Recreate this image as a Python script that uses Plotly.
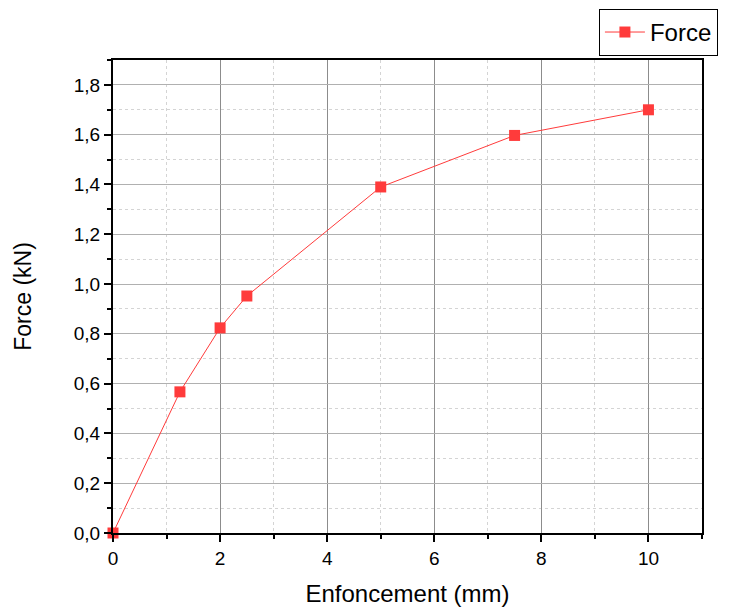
import plotly.graph_objects as go

enfoncement = [0, 1.25, 2, 2.5, 5, 7.5, 10]
force = [0, 0.567, 0.824, 0.952, 1.39, 1.597, 1.70]

fig = go.Figure()
fig.add_trace(go.Scatter(
    x=enfoncement, y=force, mode="lines+markers", name="Force",
    line=dict(color="#ff3b3b", width=1),
    marker=dict(symbol="square", size=11, color="#ff3b3b"),
    cliponaxis=False,
))

font_family = "Liberation Sans, Arial, sans-serif"

fig.update_layout(
    width=729, height=607,
    margin=dict(l=105, r=35, t=52, b=82, autoexpand=False),
    paper_bgcolor="white", plot_bgcolor="white",
    separators=",.",
    font=dict(family=font_family, color="black"),
    showlegend=True,
    legend=dict(
        x=0.825, xanchor="left", y=1.108, yanchor="top",
        bordercolor="black", borderwidth=1, bgcolor="white",
        font=dict(size=24), itemwidth=40,
    ),
    xaxis=dict(
        range=[0, 11], tickvals=[0, 2, 4, 6, 8, 10],
        ticks="outside", ticklen=7, tickwidth=2, tickcolor="black",
        showline=True, linecolor="black", linewidth=2, mirror=True,
        showgrid=True, gridcolor="#8c8c8c", gridwidth=1,
        zeroline=False,
        minor=dict(tickvals=[1, 3, 5, 7, 9, 11], ticks="outside", ticklen=4, tickwidth=2,
                   tickcolor="black", showgrid=True, gridcolor="#d4d4d4", griddash="dot", gridwidth=1),
        tickfont=dict(size=19),
        title=dict(text="Enfoncement (mm)", font=dict(size=24), standoff=17),
    ),
    yaxis=dict(
        range=[0, 1.9], tickvals=[0, 0.2, 0.4, 0.6, 0.8, 1.0, 1.2, 1.4, 1.6, 1.8],
        tickformat=".1f",
        ticks="outside", ticklen=7, tickwidth=2, tickcolor="black",
        showline=True, linecolor="black", linewidth=2, mirror=True,
        showgrid=True, gridcolor="#b0b0b0", gridwidth=1,
        zeroline=False,
        minor=dict(tickvals=[0.1, 0.3, 0.5, 0.7, 0.9, 1.1, 1.3, 1.5, 1.7, 1.9], ticks="outside", ticklen=4, tickwidth=2,
                   tickcolor="black", showgrid=True, gridcolor="#d4d4d4", griddash="dot", gridwidth=1),
        tickfont=dict(size=19),
        title=dict(text="Force (kN)", font=dict(size=23), standoff=36),
    ),
)

fig.write_html("out.html")
